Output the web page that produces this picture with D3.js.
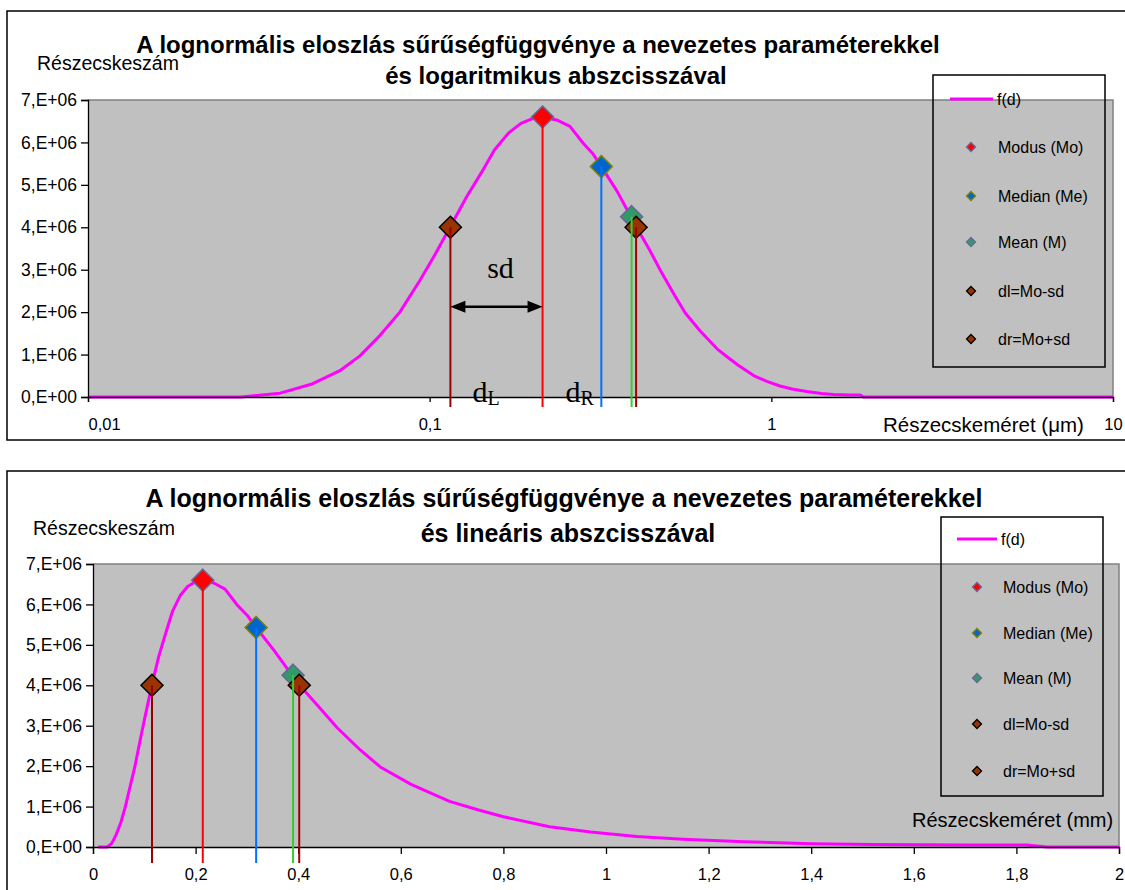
<!DOCTYPE html>
<html><head><meta charset="utf-8">
<script src="https://cdn.jsdelivr.net/npm/d3@7/dist/d3.min.js"></script>
<style>body{margin:0;background:#fff} svg{display:block}</style>
</head><body>
<svg id="c" width="1125" height="890"></svg>
<script>
// ---- data ----
const curveSize = [0.010,0.015,0.020,0.028,0.0365,0.045,0.0546,0.0625,0.0715,0.0818,0.0937,0.1024,0.1147,0.1283,0.142,0.1547,0.170,0.185,0.200,0.2125,0.2353,0.2574,0.2815,0.3013,0.318,0.3525,0.385,0.405,0.440,0.476,0.521,0.560,0.620,0.695,0.750,0.800,0.890,0.970,1.060,1.150,1.270,1.400,1.520,1.700,1.820,1.860,2.000,4.000,10.0];
const curveCount = [0,0,0,0,0.09e6,0.30e6,0.62e6,0.97e6,1.45e6,2.00e6,2.75e6,3.28e6,4.00e6,4.72e6,5.30e6,5.82e6,6.22e6,6.45e6,6.56e6,6.60e6,6.53e6,6.38e6,5.98e6,5.72e6,5.43e6,4.87e6,4.30e6,3.97e6,3.47e6,2.95e6,2.40e6,1.98e6,1.55e6,1.13e6,0.92e6,0.75e6,0.50e6,0.37e6,0.26e6,0.19e6,0.13e6,0.08e6,0.06e6,0.05e6,0.05e6,0,0,0,0];

const markerNames  = ["Modus (Mo)","Median (Me)","Mean (M)","dl=Mo-sd","dr=Mo+sd"];
const markerSize   = [0.214,0.318,0.390,0.115,0.402];
const markerCount  = [6.60e6,5.43e6,4.25e6,4.00e6,4.00e6];
const markerFill   = ["#ff0000","#0066cc","#339966","#993300","#993300"];
const markerStroke = ["#666699","#808000","#666699","#000000","#000000"];
const dropColor    = ["#ff0000","#0070ff","#33cc33","#990000","#990000"];

const yTicks = [0,1e6,2e6,3e6,4e6,5e6,6e6,7e6];
const logTicks = [0.01,0.1,1,10];
const logTickLabels = ["0,01","0,1","1","10"];
const linTicks = [0,0.2,0.4,0.6,0.8,1.0,1.2,1.4,1.6,1.8,2.0];

const titleTop = ["A lognormális eloszlás sűrűségfüggvénye a nevezetes paraméterekkel","és logaritmikus abszcisszával"];
const titleBottom = ["A lognormális eloszlás sűrűségfüggvénye a nevezetes paraméterekkel","és lineáris abszcisszával"];
const yTitle = "Részecskeszám";
const xTitleTop = "Részecskeméret (μm)";
const xTitleBottom = "Részecskeméret (mm)";
const legendLine = "f(d)";

const curve = curveSize.map((s,i)=>({s, c: curveCount[i]}));
const markers = markerNames.map((n,i)=>({n, s: markerSize[i], c: markerCount[i], fill: markerFill[i], stroke: markerStroke[i], drop: dropColor[i]}));

const SANS = "'Liberation Sans', Arial, sans-serif";
const SERIF = "'Liberation Serif', 'Times New Roman', serif";
const svg = d3.select("#c");
const yFmt = d => d === 0 ? "0,E+00" : (d/1e6) + ",E+06";
const diamond = r => `M0,${-r}L${r},0L0,${r}L${-r},0Z`;

function panel(o) {
  const g = svg.append("g");
  g.append("rect").attr("x", o.frame[0]).attr("y", o.frame[1]).attr("width", o.frame[2]).attr("height", o.frame[3])
    .attr("fill", "none").attr("stroke", "#000").attr("stroke-width", 1.5);

  const x = o.x, y = d3.scaleLinear().domain([0, 7e6]).range([o.bottom, o.top]);
  const [x0, x1] = x.range();

  g.append("rect").attr("x", x0).attr("y", o.top).attr("width", x1 - x0).attr("height", o.bottom - o.top).attr("fill", "#c0c0c0");
  const clipId = "clip" + o.id;
  g.append("clipPath").attr("id", clipId).append("rect").attr("x", x0).attr("y", o.top - 10).attr("width", x1 - x0).attr("height", o.bottom - o.top + 12);

  g.append("path").attr("d", `M${x0},${o.top}H${x1}V${o.bottom}`).attr("fill", "none").attr("stroke", "#808080").attr("stroke-width", 1.5);

  g.append("path").datum(curve).attr("clip-path", `url(#${clipId})`)
    .attr("d", d3.line().x(d => x(d.s)).y(d => y(d.c)))
    .attr("fill", "none").attr("stroke", "#ff00ff").attr("stroke-width", 3).attr("stroke-linejoin", "round");

  const ya = g.append("g").attr("transform", `translate(${x0},0)`)
    .call(d3.axisLeft(y).tickValues(yTicks).tickFormat(yFmt).tickSize(7).tickPadding(4));
  ya.selectAll("text").attr("font-family", SANS).attr("font-size", 17.5).attr("fill", "#000");
  ya.selectAll("line,path").attr("stroke", "#000").attr("stroke-width", 1.3);

  const xa = g.append("g").attr("transform", `translate(0,${o.bottom})`)
    .call(d3.axisBottom(x).tickValues(o.ticks).tickFormat(o.tickFmt).tickSize(o.tickSize).tickPadding(o.tickPad));
  xa.selectAll("text").attr("font-family", SANS).attr("font-size", 16.5).attr("fill", "#000");
  xa.selectAll("line,path").attr("stroke", "#000").attr("stroke-width", 1.3);
  if (o.firstStart) xa.select(".tick text").attr("text-anchor", "start");

  g.selectAll(".mk").data(markers).join("path").attr("class", "mk")
    .attr("transform", d => `translate(${x(d.s)},${y(d.c)})`)
    .attr("d", diamond(11)).attr("fill", d => d.fill).attr("stroke", d => d.stroke).attr("stroke-width", 1.5);

  g.selectAll(".drop").data(markers).join("line").attr("class", "drop")
    .attr("x1", d => x(d.s)).attr("x2", d => x(d.s))
    .attr("y1", d => y(d.c)).attr("y2", o.bottom + o.dropExt)
    .attr("stroke", d => d.drop).attr("stroke-width", 2);

  o.title.forEach((t, i) => {
    g.append("text").attr("x", o.titleX[i]).attr("y", o.titleY[i]).attr("text-anchor", "middle")
      .attr("font-family", SANS).attr("font-weight", "bold").attr("font-size", o.titleSize).text(t);
  });
  g.append("text").attr("x", o.yTitlePos[0]).attr("y", o.yTitlePos[1]).attr("font-family", SANS).attr("font-size", 19.5).text(yTitle);
  g.append("text").attr("x", o.xTitlePos[0]).attr("y", o.xTitlePos[1]).attr("font-family", SANS).attr("font-size", o.xTitleSize).text(o.xTitle);

  const L = o.legend;
  g.append("rect").attr("x", L.x).attr("y", L.y).attr("width", L.w).attr("height", L.h)
    .attr("fill", "none").attr("stroke", "#000").attr("stroke-width", 1.5);
  g.append("line").attr("x1", L.lx0).attr("x2", L.lx1).attr("y1", L.rows[0]).attr("y2", L.rows[0])
    .attr("stroke", "#ff00ff").attr("stroke-width", 3);
  g.append("text").attr("x", L.lx1 + 4).attr("y", L.rows[0]).attr("dy", "0.35em")
    .attr("font-family", SANS).attr("font-size", 16).text(legendLine);
  markers.forEach((m, i) => {
    g.append("path").attr("transform", `translate(${L.mx},${L.rows[i + 1]})`).attr("d", diamond(4.5))
      .attr("fill", m.fill).attr("stroke", m.stroke).attr("stroke-width", 1.3);
    g.append("text").attr("x", L.tx).attr("y", L.rows[i + 1]).attr("dy", "0.35em")
      .attr("font-family", SANS).attr("font-size", 16).text(m.n);
  });
  return {g, x, y};
}

const topPanel = panel({
  id: "t", frame: [7, 11, 1130, 429],
  x: d3.scaleLog().domain([0.01, 10]).range([88, 1113]),
  top: 100, bottom: 397,
  ticks: logTicks, tickFmt: (d, i) => logTickLabels[i], tickSize: 5, tickPad: 16, firstStart: true,
  dropExt: 10,
  title: titleTop, titleX: [538, 556], titleY: [53, 84], titleSize: 24,
  yTitlePos: [37, 70], xTitle: xTitleTop, xTitleSize: 20.5, xTitlePos: [883, 432],
  legend: {x: 933, y: 75, w: 172, h: 292, lx0: 950, lx1: 993, mx: 971, tx: 998, rows: [99, 147, 196, 242, 291, 339]}
});

{
  const {g, x, y} = topPanel;
  const mo = markers[0], dl = markers[3];
  const ay = y(2.13e6);
  const xa0 = x(dl.s), xa1 = x(mo.s);
  g.append("line").attr("x1", xa0 + 12).attr("x2", xa1 - 12).attr("y1", ay).attr("y2", ay).attr("stroke", "#000").attr("stroke-width", 2.5);
  g.append("path").attr("d", `M${xa0},${ay}L${xa0 + 15},${ay - 6}L${xa0 + 15},${ay + 6}Z`).attr("fill", "#000");
  g.append("path").attr("d", `M${xa1},${ay}L${xa1 - 15},${ay - 6}L${xa1 - 15},${ay + 6}Z`).attr("fill", "#000");
  g.append("text").attr("x", (xa0 + xa1) / 2 + 4).attr("y", y(2.8e6)).attr("text-anchor", "middle")
    .attr("font-family", SERIF).attr("font-size", 30).text("sd");
  const sub = (px, letter) => {
    const t = g.append("text").attr("x", px).attr("y", 402).attr("font-family", SERIF).attr("font-size", 30);
    t.append("tspan").text("d");
    t.append("tspan").attr("font-size", 20).attr("dy", 3).text(letter);
  };
  sub(x(dl.s) + 22, "L");
  sub(x(mo.s) + 23, "R");
}

panel({
  id: "b", frame: [7, 471, 1130, 440],
  x: d3.scaleLinear().domain([0, 2]).range([93, 1119]),
  top: 564, bottom: 847,
  ticks: linTicks, tickFmt: d => String(+d.toFixed(1)).replace(".", ","), tickSize: 7, tickPad: 14, firstStart: false,
  dropExt: 16,
  title: titleBottom, titleX: [564, 568], titleY: [507, 542], titleSize: 25,
  yTitlePos: [33, 535], xTitle: xTitleBottom, xTitleSize: 20, xTitlePos: [912, 827],
  legend: {x: 941, y: 517, w: 162, h: 279, lx0: 957, lx1: 997, mx: 977, tx: 1003, rows: [539, 587, 633, 678, 724, 771]}
});
</script>
</body></html>
